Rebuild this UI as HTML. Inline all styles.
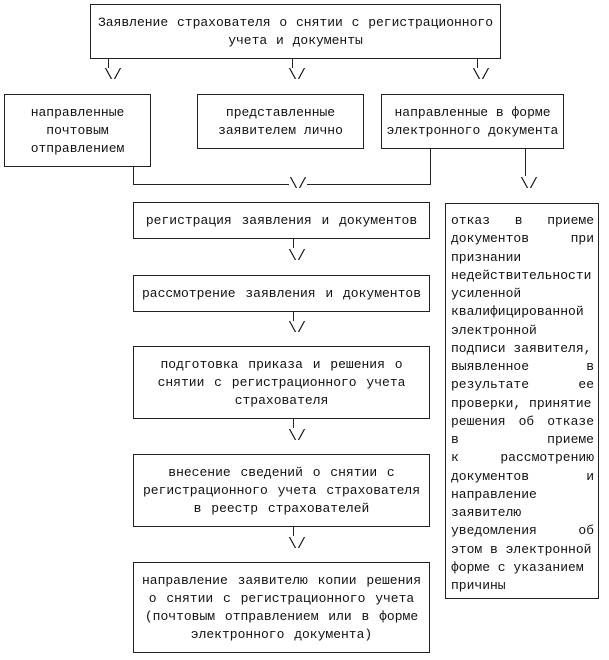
<!DOCTYPE html>
<html><head><meta charset="utf-8"><style>
body{margin:0;width:609px;height:660px;background:#fff;position:relative;overflow:hidden;font-family:"Liberation Mono","DejaVu Sans Mono",monospace;font-size:13px;color:#111}
.b{position:absolute;border:1px solid #222;box-sizing:border-box;display:flex;flex-direction:column;justify-content:center;text-align:center;line-height:18px;white-space:pre;word-spacing:2px}
.l{position:absolute;background:#222}
.a{position:absolute;line-height:16px;font-size:15px;transform:translateX(-50%)}
.r div{text-align:justify;text-align-last:justify;white-space:normal}
.r div.n{text-align-last:left}
</style></head><body>
<div class="b" style="left:90px;top:4px;width:411px;height:55px;word-spacing:1px">Заявление страхователя о снятии с регистрационного
учета и документы</div>
<div class="l" style="left:108px;top:59px;width:1px;height:9px"></div>
<div class="l" style="left:292px;top:59px;width:1px;height:9px"></div>
<div class="l" style="left:477px;top:59px;width:1px;height:9px"></div>
<div class="a" style="left:113px;top:68px">\/</div>
<div class="a" style="left:297px;top:68px">\/</div>
<div class="a" style="left:481px;top:68px">\/</div>

<div class="b" style="left:4px;top:94px;width:147px;height:73px;word-spacing:0">направленные
почтовым
отправлением</div>
<div class="b" style="left:197px;top:94px;width:167px;height:55px;word-spacing:0">представленные
заявителем лично</div>
<div class="b" style="left:381px;top:94px;width:183px;height:55px;word-spacing:0">направленные в форме
электронного документа</div>

<div class="l" style="left:133px;top:167px;width:1px;height:18px"></div>
<div class="l" style="left:133px;top:184px;width:298px;height:1px"></div>
<div class="l" style="left:430px;top:149px;width:1px;height:36px"></div>
<div class="a" style="left:298px;top:177px;background:#fff">\/</div>
<div class="l" style="left:525px;top:149px;width:1px;height:27px"></div>
<div class="a" style="left:529px;top:177px">\/</div>

<div class="b" style="left:133px;top:202px;width:297px;height:37px">регистрация заявления и документов</div>
<div class="l" style="left:293px;top:239px;width:1px;height:9px"></div>
<div class="a" style="left:297px;top:249px">\/</div>
<div class="b" style="left:133px;top:275px;width:297px;height:37px">рассмотрение заявления и документов</div>
<div class="l" style="left:293px;top:312px;width:1px;height:9px"></div>
<div class="a" style="left:297px;top:321px">\/</div>
<div class="b" style="left:133px;top:346px;width:297px;height:73px">подготовка приказа и решения о
снятии с регистрационного учета
страхователя</div>
<div class="l" style="left:293px;top:419px;width:1px;height:9px"></div>
<div class="a" style="left:297px;top:429px">\/</div>
<div class="b" style="left:133px;top:454px;width:297px;height:73px">внесение сведений о снятии с
регистрационного учета страхователя
в реестр страхователей</div>
<div class="l" style="left:293px;top:527px;width:1px;height:9px"></div>
<div class="a" style="left:297px;top:537px">\/</div>
<div class="b" style="left:133px;top:562px;width:297px;height:91px">направление заявителю копии решения
о снятии с регистрационного учета
(почтовым отправлением или в форме
электронного документа)</div>

<div class="b r" style="left:445px;top:203px;width:154px;height:396px;justify-content:flex-start;padding:8px 4px 0 5px;line-height:18.25px;text-align:left;word-spacing:0">
<div>отказ в приеме</div><div>документов при</div><div class="n">признании</div><div class="n">недействительности</div><div class="n">усиленной</div><div class="n">квалифицированной</div><div class="n">электронной</div><div class="n">подписи заявителя,</div><div>выявленное в</div><div>результате ее</div><div class="n">проверки, принятие</div><div>решения об отказе</div><div>в приеме</div><div>к рассмотрению</div><div>документов и</div><div class="n">направление</div><div class="n">заявителю</div><div>уведомления об</div><div class="n">этом в электронной</div><div class="n">форме с указанием</div><div class="n">причины</div>
</div>
</body></html>
